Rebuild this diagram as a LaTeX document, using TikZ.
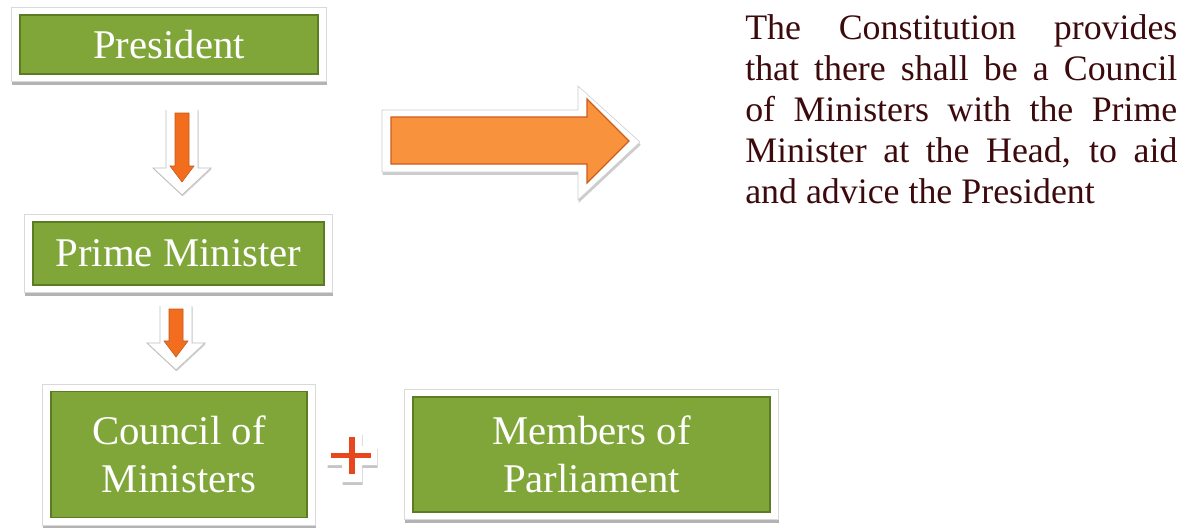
\documentclass[tikz,border=0pt]{standalone}
\usepackage{fontspec}
\setmainfont{Liberation Serif}
\usetikzlibrary{positioning,fit,backgrounds,shadows}
\definecolor{boxgreen}{RGB}{128,166,58}
\definecolor{boxedge}{RGB}{92,124,36}
\definecolor{arrorange}{RGB}{242,110,30}
\definecolor{bigorange}{RGB}{248,146,60}
\definecolor{plusred}{RGB}{232,70,30}
\definecolor{textred}{RGB}{60,10,12}
\begin{document}
\begin{tikzpicture}[x=0.025cm,y=-0.025cm,line join=miter,
    box/.style={fill=boxgreen,draw=boxedge,line width=1pt,text=white,align=center,inner sep=0pt,
      font=\fontsize{29}{34}\selectfont},
    frame/.style={fill=white,draw=black!15,inner xsep=0.2cm,inner ysep=0.17cm,
      drop shadow={shadow xshift=0.5pt,shadow yshift=-2.5pt,opacity=0.6}},
    para/.style={text width=10.8cm,align=justify,inner sep=0pt,text=textred,
      font=\fontsize{25.5}{29.3}\selectfont\sloppy},
    pics/downarr/.style={code={
      \fill[white,drop shadow={shadow xshift=0.5pt,shadow yshift=-1pt,opacity=0.3}]
        (-16,0)--(16,0)--(16,#1)--(29,#1)--(0,{#1+27})--(-29,#1)--(-16,#1)--cycle;
      \draw[black!25,line width=0.6pt] (-16,0)--(-16,#1)--(-29,#1)--(0,{#1+27})--(29,#1)--(16,#1)--(16,0);
      \fill[arrorange,draw=arrorange!80!black,line width=0.4pt]
        (-7,3)--(7,3)--(7,{#1-2})--(12,{#1-2})--(0,{#1+14})--(-12,{#1-2})--(-7,{#1-2})--cycle;
    }}]
\useasboundingbox (0,0) rectangle (1188,527);

% boxes
\node[box,minimum width=7.45cm,minimum height=1.475cm] (pres) at (169,44.5) {President};
\node[box,minimum width=7.275cm,minimum height=1.575cm] (pm) at (178.5,253.5) {Prime Minister};
\node[box,minimum width=6.4cm,minimum height=3.15cm] (com) at (179,454.5) {Council of\\Ministers};
\node[box,minimum width=8.925cm,minimum height=2.875cm] (mps) at (591.5,454.5) {Members of\\Parliament};
\begin{scope}[on background layer]
  \foreach \b in {pres,pm,com,mps}
    \node[frame,fit=(\b)] {};
\end{scope}

% arrows
\pic at (182,110) {downarr=58};
\pic at (176,306) {downarr=37};
\fill[white,draw=black!20,drop shadow={shadow xshift=0.5pt,shadow yshift=-2pt,opacity=0.4}]
  (382,110)--(578,110)--(578,86)--(640,142)--(578,200)--(578,172)--(382,172)--cycle;
\fill[bigorange,draw=arrorange!85!black,line width=0.8pt]
  (391,117)--(587,117)--(587,99)--(629,141)--(587,183)--(587,164)--(391,164)--cycle;

% plus
\fill[white,drop shadow={shadow xshift=0.5pt,shadow yshift=-2pt,opacity=0.45}]
  (342,432)--(362,432)--(362,446)--(377,446)--(377,465)--(362,465)--(362,482)--(342,482)--(342,465)--(327,465)--(327,446)--(342,446)--cycle;
\draw[plusred,line width=4pt] (352,437)--(352,474) (331,455.5)--(371,455.5);

% text
\node[para,anchor=north west] (txt) at (745,14) {The Constitution provides\linebreak
  that there shall be a Council\linebreak of Ministers with the Prime\linebreak
  Minister at the Head, to aid\linebreak and advice the President};
\end{tikzpicture}
\end{document}
